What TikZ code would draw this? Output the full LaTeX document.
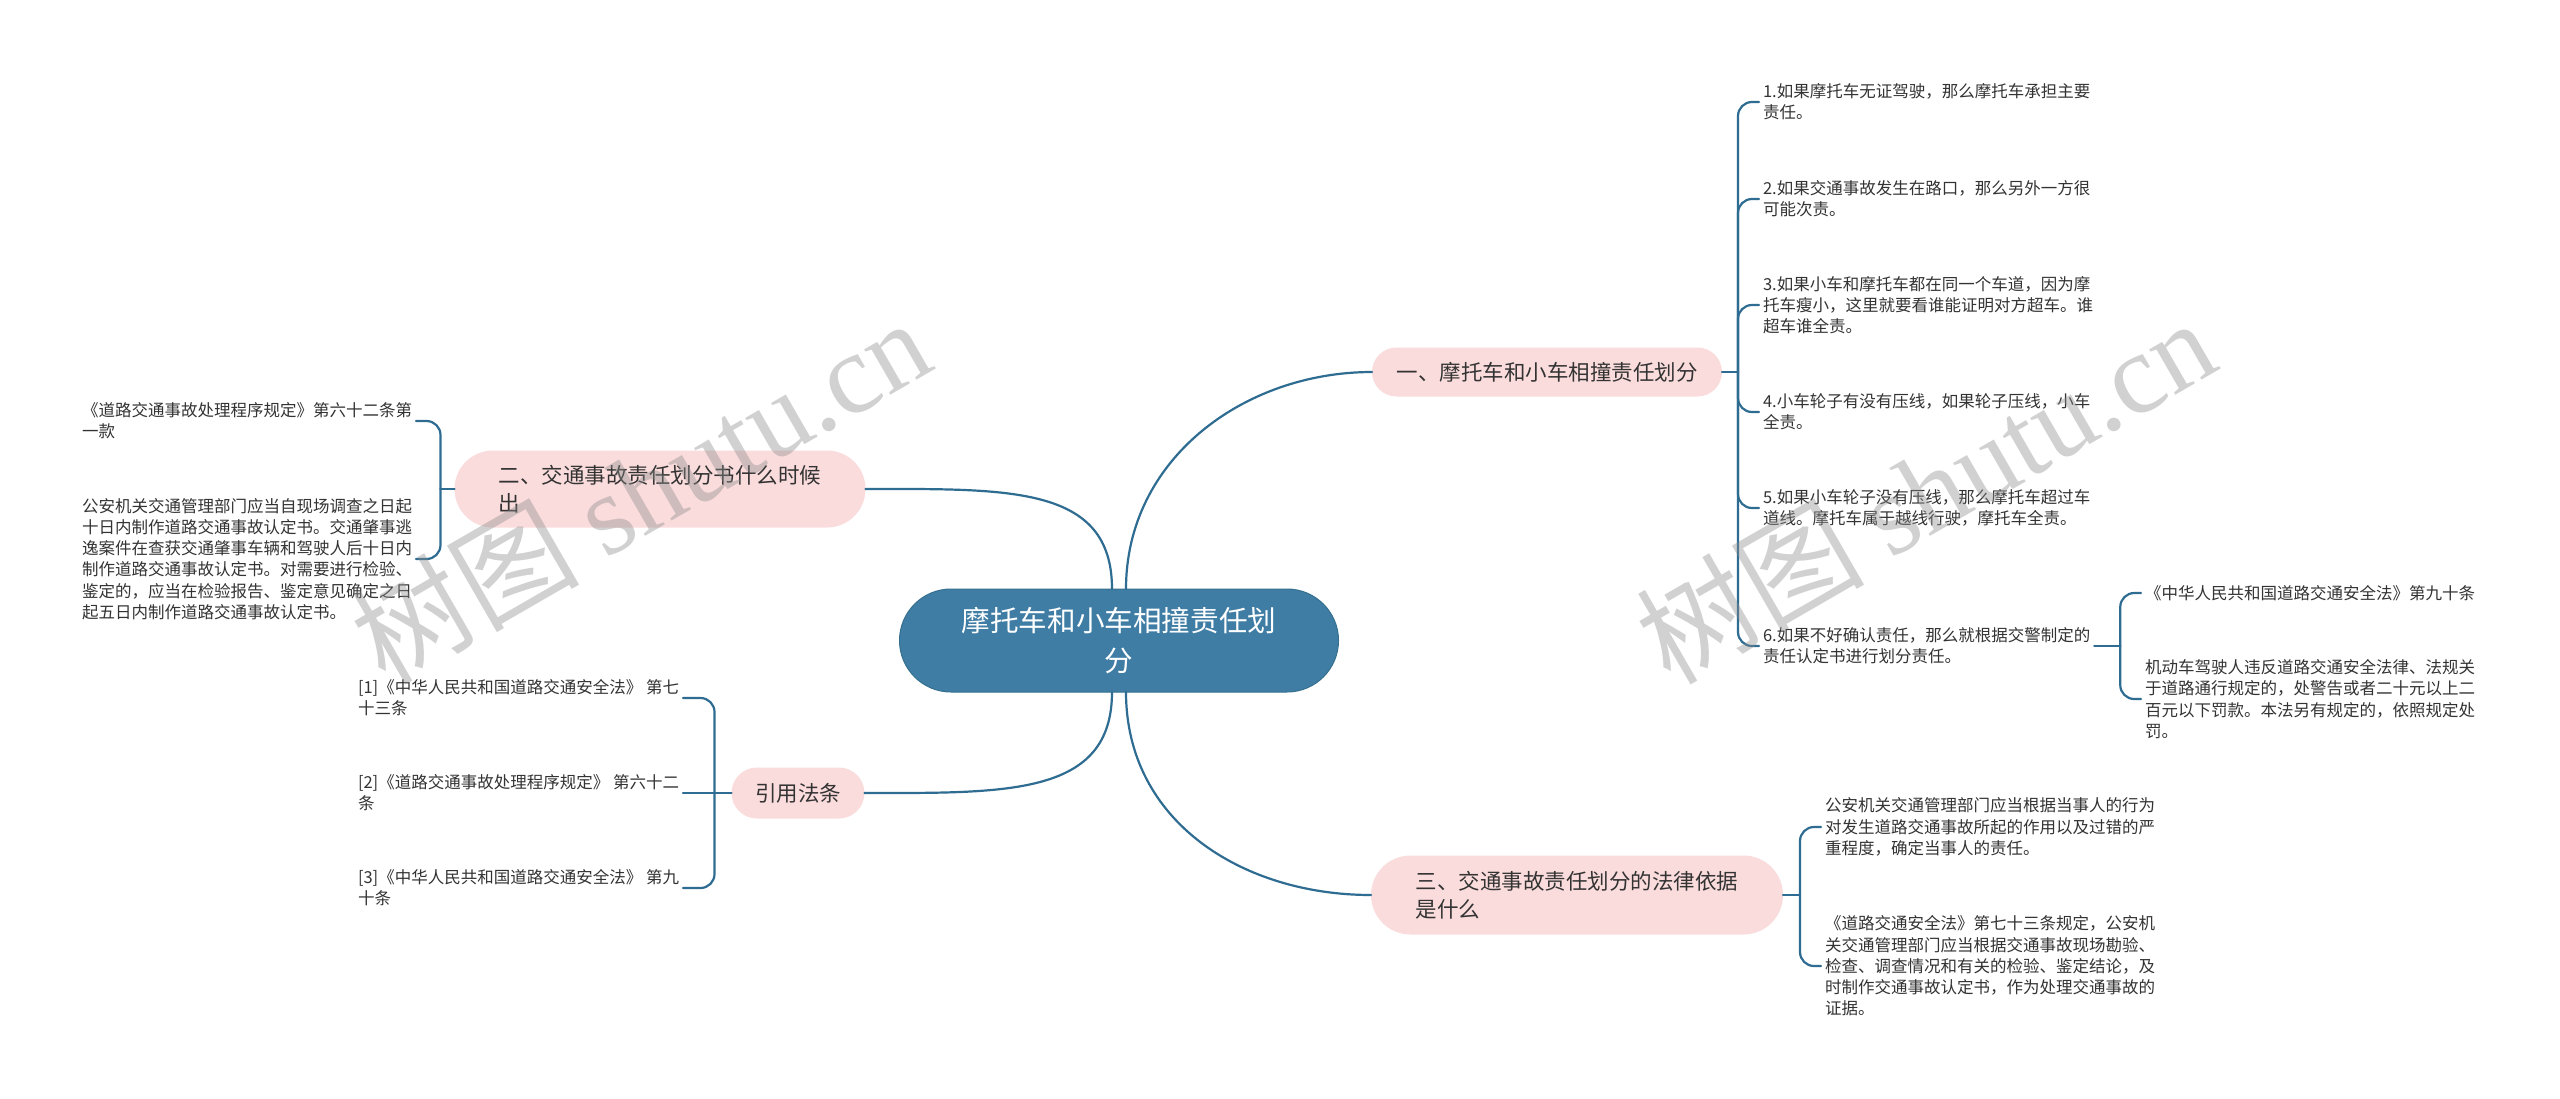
\documentclass[tikz,border=0pt]{standalone}
\usepackage{fontspec}
\setmainfont{Noto Sans CJK SC}
\newfontfamily\markserif{Liberation Serif}
\usetikzlibrary{shapes.misc}
\definecolor{MapRoot}{HTML}{3F7DA5}
\definecolor{MapRootEdge}{HTML}{35708F}
\definecolor{MapTopic}{HTML}{FBDCDC}
\definecolor{MapLink}{HTML}{2F6C92}
\definecolor{MapInk}{HTML}{333333}
\definecolor{MapMark}{gray}{0.55}
\tikzset{
    mind/diagram/.style={
        x=0.5pt, y=-0.5pt,
        line cap=round,
        line join=round,
        every node/.style={inner sep=0pt, outer sep=0pt}
    },
    mind/root/.style={
        rounded rectangle, fill=MapRoot, draw=MapRootEdge, line width=0.5pt,
        text=white, align=center, font=\fontsize{14.3}{20}\selectfont,
        minimum width=219.5pt, minimum height=51.5pt
    },
    mind/topic/.style={
        rounded rectangle, fill=MapTopic, draw=none,
        text=MapInk, align=left, font=\fontsize{10.75}{14}\selectfont
    },
    mind/leaf/.style={
        text=MapInk, align=left, inner xsep=2pt,
        font=\fontsize{8.25}{10.6}\selectfont
    },
    mind/link/.style={draw=MapLink, line width=1.1pt},
    mind/brace/.style={mind/link, rounded corners=7pt},
    mind/mark/.style={
        text=MapMark, text opacity=0.4, rotate=30,
        font=\fontsize{57}{60}\selectfont
    }
}
\begin{document}
\begin{tikzpicture}[mind/diagram]
    \fill[white] (0,0) rectangle (2560,1098);
    \useasboundingbox (0,0) rectangle (2560,1098);

    % Root and the four topics.
    \node[mind/root] (root) at (1119,640.5) {摩托车和小车相撞责任划\\分};
    \node[mind/topic, minimum width=175pt, minimum height=24.5pt]
        (collide) at (1547,372) {一、摩托车和小车相撞责任划分};
    \node[mind/topic, minimum width=205.5pt, minimum height=38.5pt]
        (when) at (660,489) {二、交通事故责任划分书什么时候\\出};
    \node[mind/topic, minimum width=206pt, minimum height=39.5pt]
        (basis) at (1577,895) {三、交通事故责任划分的法律依据\\是什么};
    \node[mind/topic, minimum width=66.5pt, minimum height=25.5pt]
        (cite) at (798,793) {引用法条};

    \draw[mind/link] ([xshift=3.5pt]root.north)
        .. controls +(0,-130) and +(-128,0) .. (collide.west);
    \draw[mind/link] ([xshift=-3.5pt]root.north)
        .. controls +(0,-104) and +(143,0) .. (when.east);
    \draw[mind/link] ([xshift=3.5pt]root.south)
        .. controls +(0,130) and +(-128,0) .. (basis.west);
    \draw[mind/link] ([xshift=-3.5pt]root.south)
        .. controls +(0,104) and +(143,0) .. (cite.east);

    % Right side, first topic: six cases.
    \node[mind/leaf, anchor=west] (case1) at (1759,102)
        {1.如果摩托车无证驾驶，那么摩托车承担主要\\责任。};
    \node[mind/leaf, anchor=west] (case2) at (1759,199)
        {2.如果交通事故发生在路口，那么另外一方很\\可能次责。};
    \node[mind/leaf, anchor=west] (case3) at (1759,305)
        {3.如果小车和摩托车都在同一个车道，因为摩\\托车瘦小，这里就要看谁能证明对方超车。谁\\超车谁全责。};
    \node[mind/leaf, anchor=west] (case4) at (1759,412)
        {4.小车轮子有没有压线，如果轮子压线，小车\\全责。};
    \node[mind/leaf, anchor=west] (case5) at (1759,508)
        {5.如果小车轮子没有压线，那么摩托车超过车\\道线。摩托车属于越线行驶，摩托车全责。};
    \node[mind/leaf, anchor=west] (case6) at (1759,646)
        {6.如果不好确认责任，那么就根据交警制定的\\责任认定书进行划分责任。};
    \coordinate (collide-k) at ([xshift=8pt]collide.east);
    \draw[mind/link] (collide.east) -- (collide-k);
    \draw[mind/brace] (collide-k) |- (case1.west);
    \draw[mind/brace] (collide-k) |- (case2.west);
    \draw[mind/brace] (collide-k) |- (case3.west);
    \draw[mind/brace] (collide-k) |- (case4.west);
    \draw[mind/brace] (collide-k) |- (case5.west);
    \draw[mind/brace] (collide-k) |- (case6.west);

    % Case 6 and the article it rests on.
    \node[mind/leaf, anchor=west] (art90) at (2141,593)
        {《中华人民共和国道路交通安全法》第九十条};
    \node[mind/leaf, anchor=west] (art90-text) at (2141,699)
        {机动车驾驶人违反道路交通安全法律、法规关\\于道路通行规定的，处警告或者二十元以上二\\百元以下罚款。本法另有规定的，依照规定处\\罚。};
    \coordinate (case6-k) at ([xshift=13pt]case6.east);
    \draw[mind/link] (case6.east) -- (case6-k);
    \draw[mind/brace] (case6-k) |- (art90.west);
    \draw[mind/brace] (case6-k) |- (art90-text.west);

    % Right side, third topic.
    \node[mind/leaf, anchor=west] (basis1) at (1821,827)
        {公安机关交通管理部门应当根据当事人的行为\\对发生道路交通事故所起的作用以及过错的严\\重程度，确定当事人的责任。};
    \node[mind/leaf, anchor=west] (basis2) at (1821,966)
        {《道路交通安全法》第七十三条规定，公安机\\关交通管理部门应当根据交通事故现场勘验、\\检查、调查情况和有关的检验、鉴定结论，及\\时制作交通事故认定书，作为处理交通事故的\\证据。};
    \coordinate (basis-k) at ([xshift=8.5pt]basis.east);
    \draw[mind/link] (basis.east) -- (basis-k);
    \draw[mind/brace] (basis-k) |- (basis1.west);
    \draw[mind/brace] (basis-k) |- (basis2.west);

    % Left side, second topic.
    \node[mind/leaf, anchor=west] (rule62) at (78,421)
        {《道路交通事故处理程序规定》第六十二条第\\一款};
    \node[mind/leaf, anchor=west] (rule62-text) at (78,559)
        {公安机关交通管理部门应当自现场调查之日起\\十日内制作道路交通事故认定书。交通肇事逃\\逸案件在查获交通肇事车辆和驾驶人后十日内\\制作道路交通事故认定书。对需要进行检验、\\鉴定的，应当在检验报告、鉴定意见确定之日\\起五日内制作道路交通事故认定书。};
    \coordinate (when-k) at ([xshift=-7pt]when.west);
    \draw[mind/link] (when.west) -- (when-k);
    \draw[mind/brace] (when-k) |- (rule62.east);
    \draw[mind/brace] (when-k) |- (rule62-text.east);

    % Left side, cited articles.
    \node[mind/leaf, anchor=west] (ref1) at (354,698)
        {[1]《中华人民共和国道路交通安全法》 第七\\十三条};
    \node[mind/leaf, anchor=west] (ref2) at (354,793)
        {[2]《道路交通事故处理程序规定》 第六十二\\条};
    \node[mind/leaf, anchor=west] (ref3) at (354,888)
        {[3]《中华人民共和国道路交通安全法》 第九\\十条};
    \coordinate (cite-k) at ([xshift=-8.5pt]cite.west);
    \draw[mind/link] (cite.west) -- (ref2.east);
    \draw[mind/brace] (cite-k) |- (ref1.east);
    \draw[mind/brace] (cite-k) |- (ref3.east);

    % Watermarks on top.
    \node[mind/mark] (mark-left) at (640,490) {树图 {\markserif shutu.cn}};
    \node[mind/mark] (mark-right) at (1925,490) {树图 {\markserif shutu.cn}};
\end{tikzpicture}
\end{document}
